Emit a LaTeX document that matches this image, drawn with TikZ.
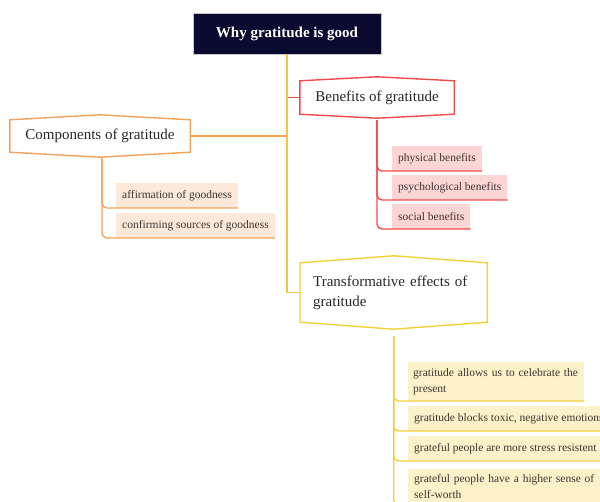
\documentclass[tikz,border=0pt]{standalone}
\usepackage{fontspec}
\setmainfont{Liberation Serif}
\definecolor{gratNavy}{HTML}{0A0A30}
\definecolor{gratRed}{HTML}{F24A4A}
\definecolor{gratRedFill}{HTML}{FDD5D5}
\definecolor{gratOrange}{HTML}{F5A257}
\definecolor{gratOrangeFill}{HTML}{FCE9DA}
\definecolor{gratYellow}{HTML}{F5CF3A}
\definecolor{gratYellowFill}{HTML}{FBF2C9}
\definecolor{gratTrunk}{HTML}{F6C445}
\definecolor{gratText}{HTML}{3C3530}

\newcommand{\hexframe}[3]{%
  \draw[#1] (#2.north west) -- ([yshift=#3]#2.north) -- (#2.north east)
    -- (#2.south east) -- ([yshift=-#3]#2.south) -- (#2.south west) -- cycle;}

\begin{document}
\begin{tikzpicture}[x=1pt, y=-1pt,
    topic/.style={fill=gratNavy, draw=gray!45, line width=0.8pt, text=white,
      font=\bfseries\fontsize{15}{18}\selectfont, minimum width=188pt, minimum height=41pt},
    branch/.style={font=\fontsize{15}{20}\selectfont, text=black!85},
    leaf/.style={anchor=south west, font=\fontsize{11.5}{16}\selectfont, text=gratText,
      inner xsep=6pt, inner ysep=6pt, minimum height=25pt, align=left},
    wire/.style={line width=1.4pt, rounded corners=5pt}]
  \path[use as bounding box] (0,0) rectangle (600,501);
  \clip (0,0) rectangle (600,501);

  \node[topic] (why) at (287,33.5) {Why gratitude is good};
  \node[branch, minimum width=154pt, minimum height=33pt] (benefits) at (377,97.5) {Benefits of gratitude};
  \node[branch, minimum width=180pt, minimum height=32pt] (components) at (100,136) {Components of gratitude};
  \node[branch, anchor=west, text width=161pt, inner xsep=13pt, minimum height=59pt, align=left] (effects) at (300,292.5) {Transformative effects of gratitude};
  \hexframe{gratRed, line width=1.4pt}{benefits}{4pt}
  \hexframe{gratOrange, line width=1.4pt}{components}{5pt}
  \hexframe{gratYellow, line width=1.4pt}{effects}{7pt}

  \node[leaf, fill=gratRedFill] (physical) at (392,171) {physical benefits};
  \node[leaf, fill=gratRedFill] (psychological) at (392,200) {psychological benefits};
  \node[leaf, fill=gratRedFill] (social) at (392,229) {social benefits};

  \node[leaf, fill=gratOrangeFill] (affirmation) at (116,208) {affirmation of goodness};
  \node[leaf, fill=gratOrangeFill] (sources) at (116,238) {confirming sources of goodness};

  \node[leaf, fill=gratYellowFill, text width=166pt, inner xsep=5pt] (celebrate) at (408,401) {gratitude allows us to celebrate the present};
  \node[leaf, fill=gratYellowFill] (toxic) at (408,431) {gratitude blocks toxic, negative emotions};
  \node[leaf, fill=gratYellowFill] (stress) at (408,461) {grateful people are more stress resistent};
  \node[leaf, fill=gratYellowFill, text width=186pt] (worth) at (408,505) {grateful people have a higher sense of self-worth};

  \draw[wire, gratRed] (benefits.west) -- (benefits.west -| why.south);
  \draw[wire, gratOrange] (components.east) -- (components.east -| why.south);
  \draw[wire, gratTrunk, rounded corners=0pt] (why.south) |- (effects.west);

  \foreach \leafname in {physical, psychological, social}
    \draw[wire, gratRed] ([yshift=-6pt]benefits.south) |- (\leafname.south east);
  \foreach \leafname in {affirmation, sources}
    \draw[wire, gratOrange] ([xshift=2pt, yshift=-5pt]components.south) |- (\leafname.south east);
  \foreach \leafname in {celebrate, toxic, stress, worth}
    \draw[wire, gratYellow] ([yshift=-14pt]effects.south) |- (\leafname.south east);
\end{tikzpicture}
\end{document}
